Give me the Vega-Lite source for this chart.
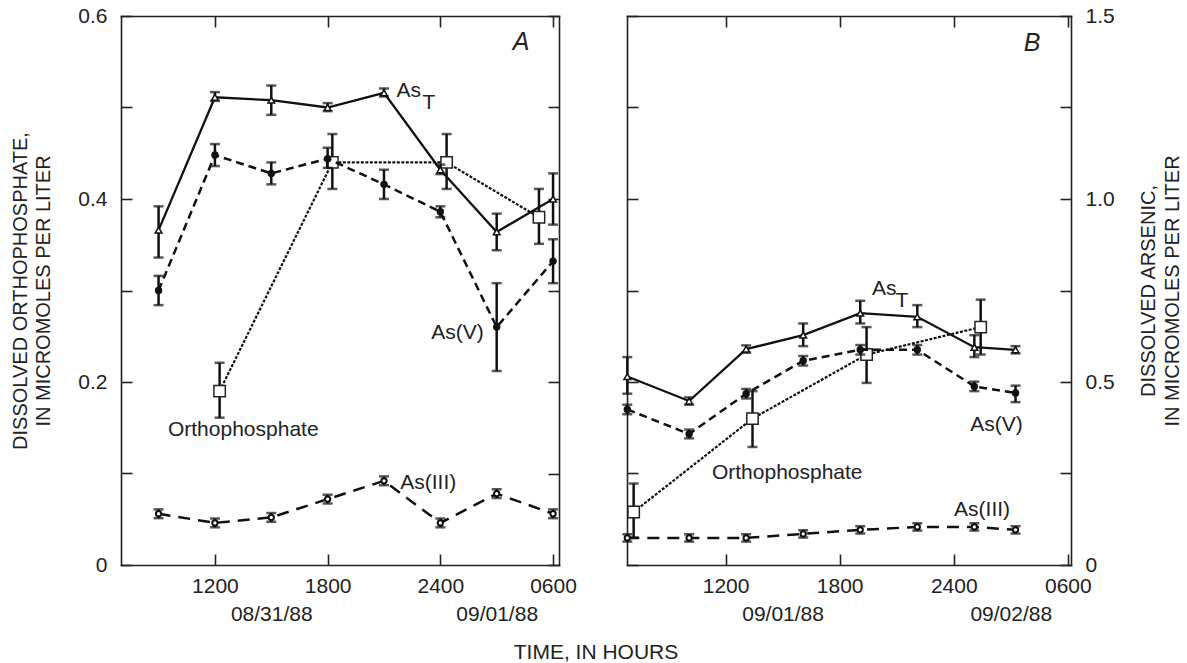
{
"$schema": "https://vega.github.io/schema/vega-lite/v6.json",
"width": 950, "height": 549,
"autosize": {"type": "none"},
"padding": {"left": 121, "top": 16, "right": 116, "bottom": 98},
"background": "white",
"config": {
  "view": {"stroke": null},
  "font": "Liberation Sans",
  "axis": {"grid": false, "domainColor": "#222", "domainWidth": 1.6, "domainCap": "square", "tickColor": "#222", "tickWidth": 1.6,
    "labelFont": "Liberation Sans", "labelFontSize": 21, "labelColor": "#222", "labelFlush": false, "labelOverlap": false, "labelBound": false,
    "titleFont": "Liberation Sans", "titleFontSize": 20, "titleFontWeight": "normal", "titleColor": "#222"},
  "text": {"font": "Liberation Sans", "color": "#222"}
},
"title": {"text": "TIME, IN HOURS", "orient": "bottom", "anchor": "middle", "frame": "group", "font": "Liberation Sans", "fontSize": 21, "fontWeight": "normal", "color": "#222", "offset": 18, "baseline": "top"},
"datasets": {
  "pts": [
    {"p":"A","s":"AsT","t":"1988-08-31T09:00","v":0.915,"lo":0.84,"hi":0.98},
    {"p":"A","s":"AsT","t":"1988-08-31T12:00","v":1.278,"lo":1.268,"hi":1.292},
    {"p":"A","s":"AsT","t":"1988-08-31T15:00","v":1.27,"lo":1.23,"hi":1.31},
    {"p":"A","s":"AsT","t":"1988-08-31T18:00","v":1.25,"lo":1.24,"hi":1.262},
    {"p":"A","s":"AsT","t":"1988-08-31T21:00","v":1.29,"lo":1.28,"hi":1.302},
    {"p":"A","s":"AsT","t":"1988-09-01T00:00","v":1.08,"lo":1.068,"hi":1.094},
    {"p":"A","s":"AsT","t":"1988-09-01T03:00","v":0.91,"lo":0.86,"hi":0.96},
    {"p":"A","s":"AsT","t":"1988-09-01T06:00","v":1.0,"lo":0.93,"hi":1.07},
    {"p":"A","s":"AsV","t":"1988-08-31T09:00","v":0.75,"lo":0.71,"hi":0.79},
    {"p":"A","s":"AsV","t":"1988-08-31T12:00","v":1.12,"lo":1.09,"hi":1.15},
    {"p":"A","s":"AsV","t":"1988-08-31T15:00","v":1.07,"lo":1.04,"hi":1.1},
    {"p":"A","s":"AsV","t":"1988-08-31T18:00","v":1.11,"lo":1.085,"hi":1.14},
    {"p":"A","s":"AsV","t":"1988-08-31T21:00","v":1.04,"lo":1.0,"hi":1.08},
    {"p":"A","s":"AsV","t":"1988-09-01T00:00","v":0.965,"lo":0.95,"hi":0.98},
    {"p":"A","s":"AsV","t":"1988-09-01T03:00","v":0.65,"lo":0.53,"hi":0.77},
    {"p":"A","s":"AsV","t":"1988-09-01T06:00","v":0.83,"lo":0.77,"hi":0.89},
    {"p":"A","s":"AsIII","t":"1988-08-31T09:00","v":0.14,"lo":0.128,"hi":0.152},
    {"p":"A","s":"AsIII","t":"1988-08-31T12:00","v":0.115,"lo":0.103,"hi":0.127},
    {"p":"A","s":"AsIII","t":"1988-08-31T15:00","v":0.13,"lo":0.118,"hi":0.142},
    {"p":"A","s":"AsIII","t":"1988-08-31T18:00","v":0.18,"lo":0.168,"hi":0.192},
    {"p":"A","s":"AsIII","t":"1988-08-31T21:00","v":0.23,"lo":0.218,"hi":0.242},
    {"p":"A","s":"AsIII","t":"1988-09-01T00:00","v":0.115,"lo":0.103,"hi":0.127},
    {"p":"A","s":"AsIII","t":"1988-09-01T03:00","v":0.195,"lo":0.183,"hi":0.207},
    {"p":"A","s":"AsIII","t":"1988-09-01T06:00","v":0.14,"lo":0.128,"hi":0.152},
    {"p":"A","s":"PO4","t":"1988-08-31T12:15","v":0.19,"lo":0.161,"hi":0.221},
    {"p":"A","s":"PO4","t":"1988-08-31T18:15","v":0.44,"lo":0.411,"hi":0.471},
    {"p":"A","s":"PO4","t":"1988-09-01T00:20","v":0.44,"lo":0.411,"hi":0.471},
    {"p":"A","s":"PO4","t":"1988-09-01T05:15","v":0.38,"lo":0.351,"hi":0.411},
    {"p":"B","s":"AsT","t":"1988-09-01T06:50","v":0.515,"lo":0.468,"hi":0.568},
    {"p":"B","s":"AsT","t":"1988-09-01T10:05","v":0.448,"lo":0.438,"hi":0.458},
    {"p":"B","s":"AsT","t":"1988-09-01T13:05","v":0.59,"lo":0.58,"hi":0.6},
    {"p":"B","s":"AsT","t":"1988-09-01T16:05","v":0.628,"lo":0.598,"hi":0.66},
    {"p":"B","s":"AsT","t":"1988-09-01T19:05","v":0.688,"lo":0.66,"hi":0.722},
    {"p":"B","s":"AsT","t":"1988-09-01T22:05","v":0.678,"lo":0.65,"hi":0.71},
    {"p":"B","s":"AsT","t":"1988-09-02T01:05","v":0.595,"lo":0.568,"hi":0.628},
    {"p":"B","s":"AsT","t":"1988-09-02T03:15","v":0.588,"lo":0.578,"hi":0.598},
    {"p":"B","s":"AsV","t":"1988-09-01T06:50","v":0.425,"lo":0.412,"hi":0.438},
    {"p":"B","s":"AsV","t":"1988-09-01T10:05","v":0.358,"lo":0.346,"hi":0.37},
    {"p":"B","s":"AsV","t":"1988-09-01T13:05","v":0.468,"lo":0.455,"hi":0.481},
    {"p":"B","s":"AsV","t":"1988-09-01T16:05","v":0.558,"lo":0.545,"hi":0.571},
    {"p":"B","s":"AsV","t":"1988-09-01T19:05","v":0.588,"lo":0.575,"hi":0.601},
    {"p":"B","s":"AsV","t":"1988-09-01T22:05","v":0.588,"lo":0.575,"hi":0.601},
    {"p":"B","s":"AsV","t":"1988-09-02T01:05","v":0.488,"lo":0.475,"hi":0.501},
    {"p":"B","s":"AsV","t":"1988-09-02T03:15","v":0.47,"lo":0.445,"hi":0.49},
    {"p":"B","s":"AsIII","t":"1988-09-01T06:50","v":0.074,"lo":0.064,"hi":0.084},
    {"p":"B","s":"AsIII","t":"1988-09-01T10:05","v":0.074,"lo":0.064,"hi":0.084},
    {"p":"B","s":"AsIII","t":"1988-09-01T13:05","v":0.074,"lo":0.064,"hi":0.084},
    {"p":"B","s":"AsIII","t":"1988-09-01T16:05","v":0.085,"lo":0.075,"hi":0.095},
    {"p":"B","s":"AsIII","t":"1988-09-01T19:05","v":0.096,"lo":0.086,"hi":0.106},
    {"p":"B","s":"AsIII","t":"1988-09-01T22:05","v":0.104,"lo":0.094,"hi":0.114},
    {"p":"B","s":"AsIII","t":"1988-09-02T01:05","v":0.104,"lo":0.094,"hi":0.114},
    {"p":"B","s":"AsIII","t":"1988-09-02T03:15","v":0.096,"lo":0.086,"hi":0.106},
    {"p":"B","s":"PO4","t":"1988-09-01T07:10","v":0.058,"lo":0.03,"hi":0.089},
    {"p":"B","s":"PO4","t":"1988-09-01T13:25","v":0.16,"lo":0.129,"hi":0.19},
    {"p":"B","s":"PO4","t":"1988-09-01T19:25","v":0.23,"lo":0.199,"hi":0.26},
    {"p":"B","s":"PO4","t":"1988-09-02T01:25","v":0.26,"lo":0.23,"hi":0.29}
  ],
  "ann": [
    {"p":"A","k":"panel","t":"1988-09-01T04:18","v":0.572,"txt":"A"},
    {"p":"A","k":"lab","t":"1988-08-31T21:40","v":0.518,"txt":"As"},
    {"p":"A","k":"lab","t":"1988-08-31T23:03","v":0.505,"txt":"T"},
    {"p":"A","k":"lab","t":"1988-08-31T23:31","v":0.254,"txt":"As(V)"},
    {"p":"A","k":"lab","t":"1988-08-31T09:30","v":0.148,"txt":"Orthophosphate"},
    {"p":"A","k":"lab","t":"1988-08-31T21:52","v":0.0896,"txt":"As(III)"},
    {"p":"B","k":"panel","t":"1988-09-02T04:07","v":0.57,"txt":"B"},
    {"p":"B","k":"lab","t":"1988-09-01T19:42","v":0.302,"txt":"As"},
    {"p":"B","k":"lab","t":"1988-09-01T20:56","v":0.289,"txt":"T"},
    {"p":"B","k":"lab","t":"1988-09-02T00:52","v":0.153,"txt":"As(V)"},
    {"p":"B","k":"lab","t":"1988-09-01T11:17","v":0.1005,"txt":"Orthophosphate"},
    {"p":"B","k":"lab","t":"1988-09-02T00:01","v":0.06,"txt":"As(III)"}
  ]
},
"layer": [
  {
    "layer": [
      {
        "data": {"name": "pts"},
        "transform": [{"filter": "datum.p == 'A' && datum.s == 'PO4'"}],
        "encoding": {
          "x": {"field": "t", "type": "temporal",
            "scale": {"domain": [{"year":1988,"month":8,"date":31,"hours":7},{"year":1988,"month":9,"date":1,"hours":6,"minutes":19}], "range": [0, 438], "nice": false},
            "axis": {"orient": "bottom", "values": [{"year":1988,"month":8,"date":31,"hours":12},{"year":1988,"month":8,"date":31,"hours":15},{"year":1988,"month":8,"date":31,"hours":18},{"year":1988,"month":9,"date":1,"hours":0},{"year":1988,"month":9,"date":1,"hours":3},{"year":1988,"month":9,"date":1,"hours":6}],
              "labelExpr": "(hours(datum.value) == 15 || hours(datum.value) == 3) ? ['', timeFormat(datum.value, '%m/%d/%y')] : (hours(datum.value) == 0 ? '2400' : timeFormat(datum.value, '%H%M'))",
              "labelPadding": 10, "labelLineHeight": 28, "ticks": false, "tickSize": 0, "title": null}},
          "y": {"field": "v", "type": "quantitative", "scale": {"domain": [0, 0.6], "nice": false},
            "axis": {"orient": "left", "values": [0, 0.1, 0.2, 0.3, 0.4, 0.5, 0.6],
              "labelExpr": "datum.value == 0 ? '0' : (round(datum.value * 10) % 2 == 0 ? format(datum.value, '.1f') : '')",
              "labelPadding": 14, "ticks": false, "tickSize": 0, "title": ["DISSOLVED ORTHOPHOSPHATE,", "IN MICROMOLES PER LITER"], "titlePadding": 24, "titleLineHeight": 23}}
        },
        "layer": [
          {"mark": {"type": "line", "color": "#111", "strokeWidth": 2.2, "strokeDash": [3, 1.5]}},
          {"mark": {"type": "errorbar", "color": "#111", "thickness": 2.5, "ticks": {"size": 10}},
           "encoding": {"y": {"field": "lo", "type": "quantitative", "scale": {"domain": [0, 0.6], "nice": false},
            "axis": {"orient": "left", "values": [0, 0.1, 0.2, 0.3, 0.4, 0.5, 0.6],
              "labelExpr": "datum.value == 0 ? '0' : (round(datum.value * 10) % 2 == 0 ? format(datum.value, '.1f') : '')",
              "labelPadding": 14, "ticks": false, "tickSize": 0, "title": ["DISSOLVED ORTHOPHOSPHATE,", "IN MICROMOLES PER LITER"], "titlePadding": 24, "titleLineHeight": 23}},
            "y2": {"field": "hi"}}},
          {"mark": {"type": "point", "shape": "square", "size": 130, "filled": true, "fill": "white", "stroke": "#222", "strokeWidth": 1.5, "opacity": 1}}
        ]
      },
      {
        "data": {"name": "pts"},
        "transform": [{"filter": "datum.p == 'A' && datum.s != 'PO4'"}],
        "encoding": {
          "x": {"field": "t", "type": "temporal",
            "scale": {"domain": [{"year":1988,"month":8,"date":31,"hours":7},{"year":1988,"month":9,"date":1,"hours":6,"minutes":19}], "range": [0, 438], "nice": false},
            "axis": {"orient": "top", "offset": -549, "values": [{"year":1988,"month":8,"date":31,"hours":12},{"year":1988,"month":8,"date":31,"hours":18},{"year":1988,"month":9,"date":1,"hours":0},{"year":1988,"month":9,"date":1,"hours":6}], "labels": false, "domain": false, "tickSize": 11, "title": null}},
          "y": {"field": "v", "type": "quantitative", "scale": {"domain": [0, 1.5], "nice": false},
            "axis": {"orient": "left", "offset": -438, "values": [0, 0.25, 0.5, 0.75, 1, 1.25, 1.5], "labels": false, "tickSize": 11, "title": null}}
        },
        "layer": [
          {"transform": [{"filter": "datum.s == 'AsT'"}], "mark": {"type": "line", "color": "#111", "strokeWidth": 2.3}},
          {"transform": [{"filter": "datum.s == 'AsV'"}], "mark": {"type": "line", "color": "#111", "strokeWidth": 2.5, "strokeDash": [8, 5]}},
          {"transform": [{"filter": "datum.s == 'AsIII'"}], "mark": {"type": "line", "color": "#111", "strokeWidth": 2.5, "strokeDash": [12, 8]}},
          {"mark": {"type": "errorbar", "color": "#111", "thickness": 2.5, "ticks": {"size": 10}},
           "encoding": {"y": {"field": "lo", "type": "quantitative", "scale": {"domain": [0, 1.5], "nice": false},
             "axis": {"orient": "left", "offset": -438, "values": [0, 0.25, 0.5, 0.75, 1, 1.25, 1.5], "labels": false, "tickSize": 11, "title": null}},
             "y2": {"field": "hi"}}},
          {"transform": [{"filter": "datum.s == 'AsT'"}], "mark": {"type": "point", "shape": "triangle-up", "size": 45, "filled": true, "fill": "white", "stroke": "#111", "strokeWidth": 1.5, "opacity": 1}},
          {"transform": [{"filter": "datum.s == 'AsV'"}], "mark": {"type": "point", "shape": "circle", "size": 55, "filled": true, "color": "#111", "opacity": 1}},
          {"transform": [{"filter": "datum.s == 'AsIII'"}], "mark": {"type": "point", "shape": "circle", "size": 28, "filled": true, "fill": "white", "stroke": "#111", "strokeWidth": 2, "opacity": 1}}
        ]
      },
      {
        "data": {"name": "ann"},
        "transform": [{"filter": "datum.p == 'A'"}],
        "encoding": {
          "x": {"field": "t", "type": "temporal",
            "scale": {"domain": [{"year":1988,"month":8,"date":31,"hours":7},{"year":1988,"month":9,"date":1,"hours":6,"minutes":19}], "range": [0, 438], "nice": false},
            "axis": {"orient": "bottom", "offset": -549, "values": [{"year":1988,"month":8,"date":31,"hours":12},{"year":1988,"month":8,"date":31,"hours":18},{"year":1988,"month":9,"date":1,"hours":0},{"year":1988,"month":9,"date":1,"hours":6}], "labels": false, "tickSize": 11, "title": null}},
          "y": {"field": "v", "type": "quantitative", "scale": {"domain": [0, 0.6], "nice": false},
            "axis": {"orient": "right", "offset": -950, "values": [0, 0.1, 0.2, 0.3, 0.4, 0.5, 0.6], "labels": false, "domain": false, "tickSize": 11, "title": null}},
          "text": {"field": "txt"}
        },
        "layer": [
          {"transform": [{"filter": "datum.k == 'lab'"}], "mark": {"type": "text", "align": "left", "baseline": "middle", "fontSize": 21, "font": "Liberation Sans", "color": "#222"}},
          {"transform": [{"filter": "datum.k == 'panel'"}], "mark": {"type": "text", "align": "center", "baseline": "middle", "fontSize": 25, "fontStyle": "italic", "font": "Liberation Sans", "color": "#222"}}
        ]
      }
    ],
    "resolve": {"scale": {"x": "shared", "y": "independent"}, "axis": {"x": "independent", "y": "independent"}}
  },
  {
    "layer": [
      {
        "data": {"name": "pts"},
        "transform": [{"filter": "datum.p == 'B' && datum.s == 'PO4'"}],
        "encoding": {
          "x": {"field": "t", "type": "temporal",
            "scale": {"domain": [{"year":1988,"month":9,"date":1,"hours":6,"minutes":49},{"year":1988,"month":9,"date":2,"hours":6,"minutes":10}], "range": [506, 950], "nice": false},
            "axis": {"orient": "bottom", "values": [{"year":1988,"month":9,"date":1,"hours":12},{"year":1988,"month":9,"date":1,"hours":15},{"year":1988,"month":9,"date":1,"hours":18},{"year":1988,"month":9,"date":2,"hours":0},{"year":1988,"month":9,"date":2,"hours":3},{"year":1988,"month":9,"date":2,"hours":6}],
              "labelExpr": "(hours(datum.value) == 15 || hours(datum.value) == 3) ? ['', timeFormat(datum.value, '%m/%d/%y')] : (hours(datum.value) == 0 ? '2400' : timeFormat(datum.value, '%H%M'))",
              "labelPadding": 10, "labelLineHeight": 28, "ticks": false, "tickSize": 0, "title": null}},
          "y": {"field": "v", "type": "quantitative", "scale": {"domain": [0, 0.6], "nice": false},
            "axis": {"orient": "right", "offset": -444, "values": [0, 0.1, 0.2, 0.3, 0.4, 0.5, 0.6], "labels": false, "tickSize": 11, "title": null}}
        },
        "layer": [
          {"mark": {"type": "line", "color": "#111", "strokeWidth": 2.2, "strokeDash": [3, 1.5]}},
          {"mark": {"type": "errorbar", "color": "#111", "thickness": 2.5, "ticks": {"size": 10}},
           "encoding": {"y": {"field": "lo", "type": "quantitative", "scale": {"domain": [0, 0.6], "nice": false},
             "axis": {"orient": "right", "offset": -444, "values": [0, 0.1, 0.2, 0.3, 0.4, 0.5, 0.6], "labels": false, "tickSize": 11, "title": null}},
             "y2": {"field": "hi"}}},
          {"mark": {"type": "point", "shape": "square", "size": 130, "filled": true, "fill": "white", "stroke": "#222", "strokeWidth": 1.5, "opacity": 1}}
        ]
      },
      {
        "data": {"name": "pts"},
        "transform": [{"filter": "datum.p == 'B' && datum.s != 'PO4'"}],
        "encoding": {
          "x": {"field": "t", "type": "temporal",
            "scale": {"domain": [{"year":1988,"month":9,"date":1,"hours":6,"minutes":49},{"year":1988,"month":9,"date":2,"hours":6,"minutes":10}], "range": [506, 950], "nice": false},
            "axis": {"orient": "top", "offset": -549, "values": [{"year":1988,"month":9,"date":1,"hours":12},{"year":1988,"month":9,"date":1,"hours":18},{"year":1988,"month":9,"date":2,"hours":0},{"year":1988,"month":9,"date":2,"hours":6}], "labels": false, "domain": false, "tickSize": 11, "title": null}},
          "y": {"field": "v", "type": "quantitative", "scale": {"domain": [0, 1.5], "nice": false},
            "axis": {"orient": "right", "values": [0, 0.25, 0.5, 0.75, 1, 1.25, 1.5],
              "labelExpr": "datum.value == 0 ? '0' : (round(datum.value * 4) % 2 == 0 ? format(datum.value, '.1f') : '')",
              "labelPadding": 14, "ticks": false, "tickSize": 0, "title": ["DISSOLVED ARSENIC,", "IN MICROMOLES PER LITER"], "titleAngle": 270, "titleBaseline": "top", "titlePadding": 0, "titleLineHeight": 24}}
        },
        "layer": [
          {"transform": [{"filter": "datum.s == 'AsT'"}], "mark": {"type": "line", "color": "#111", "strokeWidth": 2.3}},
          {"transform": [{"filter": "datum.s == 'AsV'"}], "mark": {"type": "line", "color": "#111", "strokeWidth": 2.5, "strokeDash": [8, 5]}},
          {"transform": [{"filter": "datum.s == 'AsIII'"}], "mark": {"type": "line", "color": "#111", "strokeWidth": 2.5, "strokeDash": [12, 8]}},
          {"mark": {"type": "errorbar", "color": "#111", "thickness": 2.5, "ticks": {"size": 10}},
           "encoding": {"y": {"field": "lo", "type": "quantitative", "scale": {"domain": [0, 1.5], "nice": false},
             "axis": {"orient": "right", "values": [0, 0.25, 0.5, 0.75, 1, 1.25, 1.5],
               "labelExpr": "datum.value == 0 ? '0' : (round(datum.value * 4) % 2 == 0 ? format(datum.value, '.1f') : '')",
               "labelPadding": 14, "ticks": false, "tickSize": 0, "title": ["DISSOLVED ARSENIC,", "IN MICROMOLES PER LITER"], "titleAngle": 270, "titleBaseline": "top", "titlePadding": 0, "titleLineHeight": 24}},
             "y2": {"field": "hi"}}},
          {"transform": [{"filter": "datum.s == 'AsT'"}], "mark": {"type": "point", "shape": "triangle-up", "size": 45, "filled": true, "fill": "white", "stroke": "#111", "strokeWidth": 1.5, "opacity": 1}},
          {"transform": [{"filter": "datum.s == 'AsV'"}], "mark": {"type": "point", "shape": "circle", "size": 55, "filled": true, "color": "#111", "opacity": 1}},
          {"transform": [{"filter": "datum.s == 'AsIII'"}], "mark": {"type": "point", "shape": "circle", "size": 28, "filled": true, "fill": "white", "stroke": "#111", "strokeWidth": 2, "opacity": 1}}
        ]
      },
      {
        "data": {"name": "ann"},
        "transform": [{"filter": "datum.p == 'B'"}],
        "encoding": {
          "x": {"field": "t", "type": "temporal",
            "scale": {"domain": [{"year":1988,"month":9,"date":1,"hours":6,"minutes":49},{"year":1988,"month":9,"date":2,"hours":6,"minutes":10}], "range": [506, 950], "nice": false},
            "axis": {"orient": "bottom", "offset": -549, "values": [{"year":1988,"month":9,"date":1,"hours":12},{"year":1988,"month":9,"date":1,"hours":18},{"year":1988,"month":9,"date":2,"hours":0},{"year":1988,"month":9,"date":2,"hours":6}], "labels": false, "tickSize": 11, "title": null}},
          "y": {"field": "v", "type": "quantitative", "scale": {"domain": [0, 0.6], "nice": false},
            "axis": {"orient": "left", "offset": -950, "values": [0, 0.1, 0.2, 0.3, 0.4, 0.5, 0.6], "labels": false, "domain": false, "tickSize": 11, "title": null}},
          "text": {"field": "txt"}
        },
        "layer": [
          {"transform": [{"filter": "datum.k == 'lab'"}], "mark": {"type": "text", "align": "left", "baseline": "middle", "fontSize": 21, "font": "Liberation Sans", "color": "#222"}},
          {"transform": [{"filter": "datum.k == 'panel'"}], "mark": {"type": "text", "align": "center", "baseline": "middle", "fontSize": 25, "fontStyle": "italic", "font": "Liberation Sans", "color": "#222"}}
        ]
      }
    ],
    "resolve": {"scale": {"x": "shared", "y": "independent"}, "axis": {"x": "independent", "y": "independent"}}
  }
],
"resolve": {"scale": {"x": "independent", "y": "independent"}, "axis": {"x": "independent", "y": "independent"}}
}
